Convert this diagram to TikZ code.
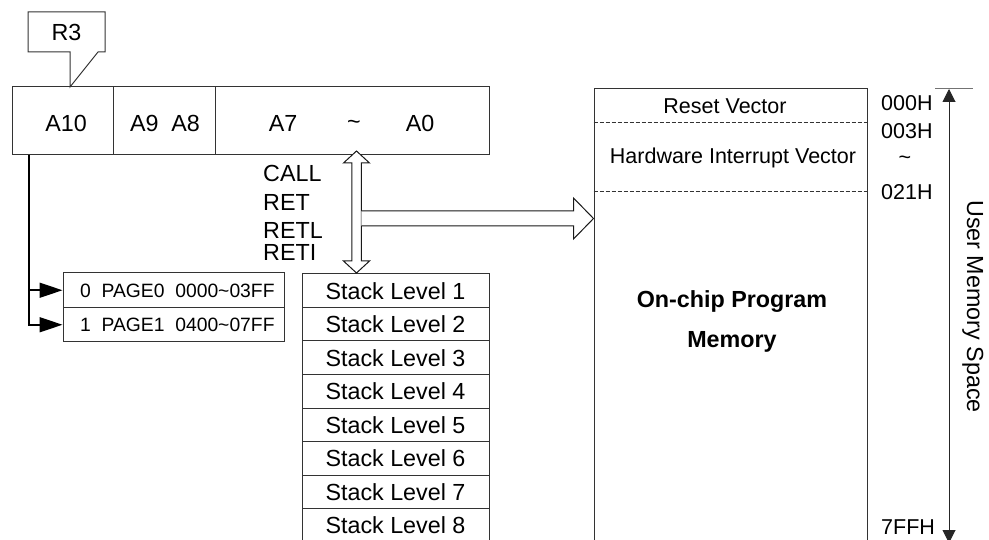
\documentclass[tikz,border=0pt]{standalone}
\usepackage{fontspec}
\setmainfont{Liberation Sans}
\usetikzlibrary{arrows.meta,calc}

\tikzset{
  box/.style={draw=black!80, line width=1pt, inner sep=0pt},
  lbl/.style={inner sep=0pt, font=\fontsize{23.3pt}{27pt}\selectfont},
  memlbl/.style={inner sep=0pt, font=\fontsize{21.5pt}{25pt}\selectfont},
  boldlbl/.style={inner sep=0pt, font=\fontsize{23.3pt}{27pt}\selectfont\bfseries},
  pagelbl/.style={inner sep=0pt, font=\fontsize{19.3pt}{22pt}\selectfont},
  stackrow/.style={box, minimum width=187pt, minimum height=33.5pt, lbl},
  hollow/.style={draw=black!90, line width=1pt, fill=white, line join=miter},
  pagearrow/.style={draw=black, line width=1.6pt, -{Triangle[length=23pt,width=15pt]}},
  spacearrow/.style={draw=black!85, line width=1pt,
    {Triangle[length=13pt,width=13pt]}-{Triangle[length=13pt,width=13pt]}},
}

\begin{document}
\begin{tikzpicture}[x=1pt,y=-1pt]
\useasboundingbox (0,0) rectangle (989,540);
\clip (0,0) rectangle (989,540);

% R3 callout
\draw[box, fill=white] (28,12) -- (105,12) -- (105,52) -- (98,52) -- (70,87)
  -- (70,52) -- (28,52) -- cycle;
\node[lbl] (r3) at (66.5,32.5) {R3};

% program counter register
\node[box, minimum width=477pt, minimum height=68pt] (reg) at (250.5,121) {};
\draw[box] ($(reg.north west)+(102,0)$) -- ($(reg.south west)+(102,0)$);
\draw[box] ($(reg.north west)+(204,0)$) -- ($(reg.south west)+(204,0)$);
\node[lbl] (a10) at (66,123) {A10};
\node[lbl] (a98) at (165,123) {A9\ \ A8};
\node[lbl] (a7) at (283,123) {A7};
\node[lbl] (atil) at (354,125) {\textasciitilde};
\node[lbl] (a0) at (420,123) {A0};

% page select table
\node[box, minimum width=221pt, minimum height=34.5pt] (page0) at (173.5,290.25) {};
\node[box, minimum width=221pt, minimum height=34.5pt] (page1) at (173.5,324.75) {};
\node[pagelbl, anchor=west] (p0t) at (80,291) {0\ \ PAGE0\ \ 0000\textasciitilde 03FF};
\node[pagelbl, anchor=west] (p1t) at (80,324.5) {1\ \ PAGE1\ \ 0400\textasciitilde 07FF};

\coordinate (drop) at ($(reg.south west)+(17.5,0)$);
\draw[pagearrow] (drop) |- (page0.west);
\draw[pagearrow] (drop) |- (page1.west);

% stack
\foreach \i in {1,...,8}
  \node[stackrow] (s\i) at (395.5,{290.75+33.5*(\i-1)}) {Stack Level \i};

% instruction labels
\node[lbl, anchor=base west] (call) at (263,182) {CALL};
\node[lbl, anchor=base west] (ret)  at (263,211) {RET};
\node[lbl, anchor=base west] (retl) at (263,239) {RETL};
\node[lbl, anchor=base west] (reti) at (263,261) {RETI};

% program memory
\node[box, minimum width=273pt, minimum height=471pt] (mem) at (730.5,324.5) {};
\draw[box, dash pattern=on 4pt off 2pt]
  ($(mem.north west)+(0,34)$) -- ($(mem.north east)+(0,34)$);
\draw[box, dash pattern=on 4pt off 2pt]
  ($(mem.north west)+(0,103)$) -- ($(mem.north east)+(0,103)$);
\node[memlbl, anchor=base] (rv) at (725,114) {Reset Vector};
\node[memlbl, anchor=base] (hiv) at (733,164) {Hardware Interrupt Vector};
\node[boldlbl, anchor=base] (oc1) at (732,308) {On-chip Program};
\node[boldlbl, anchor=base] (oc2) at (732,348) {Memory};

% addresses
\node[memlbl, anchor=west] (ad0) at (881,103) {000H};
\node[memlbl, anchor=west] (ad3) at (881,131) {003H};
\node[memlbl] (adt) at (905,160) {\textasciitilde};
\node[memlbl, anchor=west] (ad21) at (881,192) {021H};
\node[memlbl, anchor=west] (ad7) at (881,527) {7FFH};

% user memory space span
\coordinate (tickl) at (935,89);
\coordinate (tickr) at (973,89);
\coordinate (utop) at (949,89);
\coordinate (ubot) at (949,543);
\draw[draw=black!55, line width=1pt] (tickl) -- (tickr);
\draw[spacearrow] (utop) -- (ubot);
\node[lbl, rotate=-90, anchor=base] (ums) at (967,306.5) {User Memory Space};

% stack access arrow (double headed, hollow)
\coordinate (vtop) at (356.5,151);
\coordinate (vbot) at (356.5,273);
\draw[hollow] (vtop) -- ++(13,12) -- ++(-8.25,0) -- ($(vbot)+(4.75,-12)$)
  -- ++(8.25,0) -- (vbot) -- ++(-13,-12) -- ++(8.25,0)
  -- ($(vtop)+(-4.75,12)$) -- ++(-8.25,0) -- cycle;

% branch to program memory (hollow)
\coordinate (hstart) at (361.25,218.5);
\coordinate (htip) at (hstart -| mem.west);
\draw[hollow] ($(hstart)+(0,-7.5)$) -- ($(htip)+(-20,-7.5)$) -- ++(0,-13)
  -- (htip) -- ++(-20,20.5) -- ++(0,-13) -- ($(hstart)+(0,7.5)$);
\end{tikzpicture}
\end{document}
